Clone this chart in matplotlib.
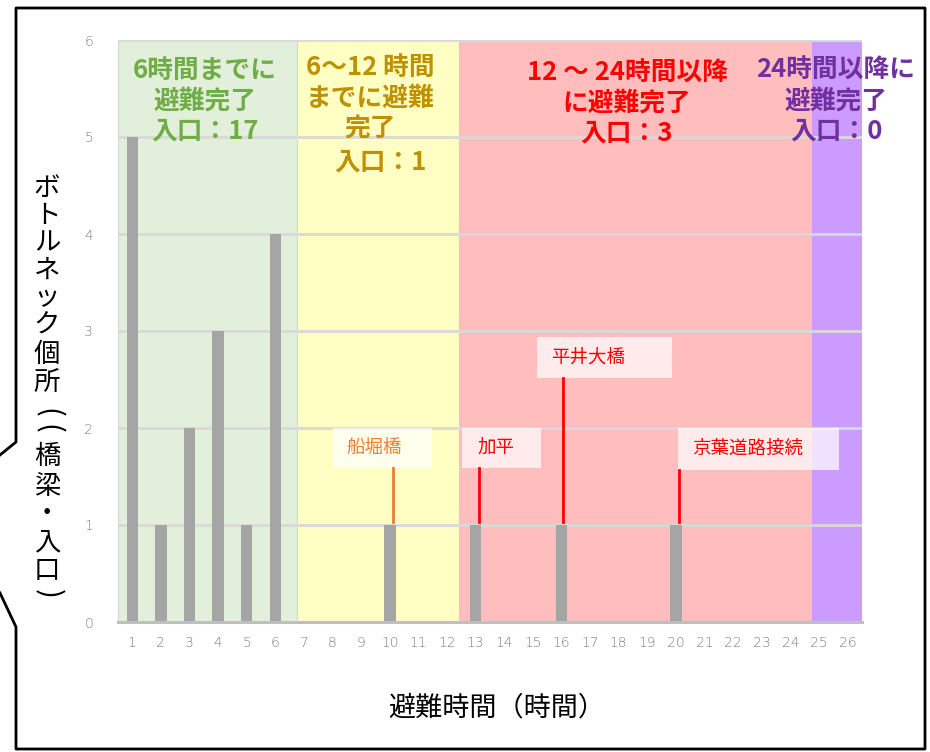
import matplotlib
matplotlib.use("Agg")
import matplotlib.pyplot as plt
from matplotlib.patches import Rectangle
from matplotlib.lines import Line2D

plt.rcParams['font.family'] = ['Noto Sans CJK JP', 'DejaVu Sans']

# ---- data ----
hours = list(range(1, 27))
counts = [5, 1, 2, 3, 1, 4, 0, 0, 0, 1, 0, 0, 1, 0, 0, 1, 0, 0, 0, 1, 0, 0, 0, 0, 0, 0]
yticks = [0, 1, 2, 3, 4, 5, 6]

zone_edges = [0.5, 6.78, 12.42, 24.75, 26.5]
zone_colors = ['#e2efda', '#ffffc4', '#ffbdbd', '#cc9bff']
zone_text_colors = ['#70ad47', '#bf9000', '#ff0000', '#7030a0']
zone_texts = [
    ['6時間までに', '避難完了', '入口：17'],
    ['6～12 時間', 'までに避難', '完了', '入口：1'],
    ['12 ～ 24時間以降', 'に避難完了', '入口：3'],
    ['24時間以降に', '避難完了', '入口：0'],
]

bridge_names = ['船堀橋', '加平', '平井大橋', '京葉道路接続']
bridge_hours = [10, 13, 16, 20]
bridge_colors = ['#ed7d31', '#ff0000', '#ff0000', '#ff0000']

xlabel = '避難時間（時間）'
ylabel_chars = list('ボトルネック個所') + ['(', '('] + list('橋梁・入口') + [')']

W, H = 930, 752
fig = plt.figure(figsize=(W / 100, H / 100), dpi=100)

L, R, T, B = 118, 862, 40, 622
ax = fig.add_axes([L / W, 1 - B / H, (R - L) / W, (B - T) / H])
ax.set_xlim(0.5, 26.5)
ax.set_ylim(0, 6)
ax.set_axisbelow(True)

# zone backgrounds
for i in range(4):
    ax.add_patch(Rectangle((zone_edges[i], 0), zone_edges[i + 1] - zone_edges[i], 6,
                           facecolor=zone_colors[i],
                           edgecolor='#d0d0d0' if i == 0 else 'none',
                           lw=1.2, zorder=0.2))

ax.yaxis.grid(True, color='#d9d9d9', lw=2)
ax.bar(hours, counts, width=0.4, color='#a5a5a5', zorder=2)

ax.set_xticks(hours)
ax.set_xticklabels([str(h) for h in hours])
ax.set_yticks(yticks)
ax.tick_params(axis='both', length=0, colors='#7f7f7f', labelsize=10)
ax.tick_params(axis='x', pad=10)
ax.tick_params(axis='y', pad=18)
for t in ax.get_xticklabels() + ax.get_yticklabels():
    t.set_family(['DejaVu Sans'])
    t.set_fontweight('light')
for s in ['left', 'right', 'top']:
    ax.spines[s].set_visible(False)
ax.spines['bottom'].set_color('#bfbfbf')
ax.spines['bottom'].set_linewidth(2.2)
ax.spines['bottom'].set_zorder(3)


def py2d(py):
    return (B - py) / (B - T) * 6


def px2d(px):
    return 0.5 + (px - L) / (R - L) * 26


# zone headers
zone_centers = [[205, 205, 205], [370, 370, 370, 380], [627, 627, 627], [836, 836, 836]]
zone_line_y = [[70, 101, 131], [67, 98, 128, 162], [73, 103, 133], [70, 101, 131]]
for i in range(4):
    for line, cx, cy in zip(zone_texts[i], zone_centers[i], zone_line_y[i]):
        ax.text(px2d(cx), py2d(cy), line, ha='center', va='center',
                fontsize=18.5, fontweight='bold', color=zone_text_colors[i],
                zorder=5, clip_on=False)

# bridge callouts
box_px = [(333, 432, 428, 468), (462, 541, 428, 468), (537, 672, 337, 378), (678, 839, 428, 470)]
text_x_px = [346, 477, 551, 692]
line_x_px = [393, 479, 563, 679]
for name, hr, col, (x0, x1, y0, y1), tx, lx in zip(bridge_names, bridge_hours, bridge_colors,
                                                    box_px, text_x_px, line_x_px):
    ax.add_patch(Rectangle((px2d(x0), py2d(y1)), px2d(x1) - px2d(x0), py2d(y0) - py2d(y1),
                           facecolor='white', alpha=0.7, edgecolor='none', zorder=3))
    ax.text(px2d(tx), py2d((y0 + y1) / 2), name, ha='left', va='center',
            fontsize=13.3, color=col, zorder=4)
    ax.plot([px2d(lx), px2d(lx)], [1.03, py2d(y1)], color=col, lw=2, zorder=4)

# axis titles
fig.text(497 / W, 1 - 708 / H, xlabel, ha='center', va='center', fontsize=19.5, color='black')
ys = [188, 215, 243, 270, 298, 325, 354, 383, 413, 429, 457, 487, 514, 543, 570, 594]
for ch, yy in zip(ylabel_chars, ys):
    if ch in '()':
        fig.text(47 / W, 1 - yy / H, ch, ha='center', va='center', fontsize=21,
                 color='black', rotation=270)
    else:
        fig.text(47 / W, 1 - yy / H, ch, ha='center', va='center', fontsize=19, color='black')

# callout frame
pts = [(0, 455), (16, 442), (16, 8), (925, 8), (925, 749), (16, 749), (16, 627), (0, 593)]
fig.add_artist(Line2D([p[0] / W for p in pts], [1 - p[1] / H for p in pts],
                      transform=fig.transFigure, color='black', lw=2))

fig.savefig('out.png', dpi=100)
